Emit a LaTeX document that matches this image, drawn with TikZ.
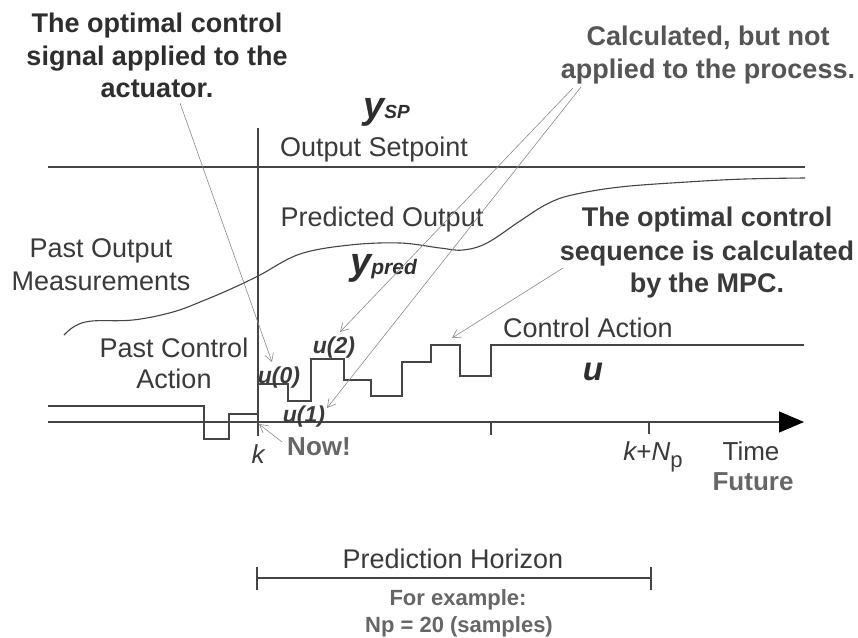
\documentclass[tikz,border=0pt]{standalone}
\usepackage{fontspec}
\setmainfont{Liberation Sans}
\usetikzlibrary{arrows.meta}
\definecolor{txt}{HTML}{3A3A3A}
\definecolor{dark}{HTML}{2E2E2E}
\definecolor{mid}{HTML}{555555}
\definecolor{light}{HTML}{666666}
\definecolor{lin}{HTML}{454545}
\definecolor{thin}{HTML}{8A8A8A}
\tikzset{
  lbl/.style={font=\fontsize{27}{30}\selectfont, text=txt, inner sep=0pt, anchor=base},
  call/.style={font=\fontsize{27}{30}\selectfont\bfseries, inner sep=0pt, anchor=base},
  ulbl/.style={font=\fontsize{23}{26}\selectfont\bfseries\itshape, text=txt, inner sep=0pt, anchor=base},
  grey/.style={font=\fontsize{26}{30}\selectfont\bfseries, text=light, inner sep=0pt, anchor=base},
  mainline/.style={draw=lin, line width=1.1pt},
  pointer/.style={draw=thin, line width=0.6pt, -{Straight Barb[length=8pt,width=9pt]}}
}
\begin{document}
\begin{tikzpicture}[x=1pt,y=-1pt]
\useasboundingbox (0,0) rectangle (858,637);
\fill[white] (0,0) rectangle (858,637);

% setpoint line
\coordinate (sp0) at (48,167);
\coordinate (sp1) at (805,167);
\draw[mainline] (sp0) -- (sp1);

% vertical "now" line
\coordinate (kt) at (258,128);
\coordinate (kb) at (258,436);
\draw[mainline] (kt) -- (kb);

% time axis
\coordinate (ax0) at (48,422);
\coordinate (ax1) at (804,422);
\draw[mainline, -{Triangle[length=25pt,width=21pt,fill=black,color=black]}] (ax0) -- (ax1);
\coordinate (t1a) at (491,422); \coordinate (t1b) at (491,435);
\coordinate (t2a) at (649,422); \coordinate (t2b) at (649,434);
\draw[mainline] (t1a) -- (t1b);
\draw[mainline] (t2a) -- (t2b);

% output curve
\draw[draw=lin, line width=1.1pt] plot[smooth, tension=0.6] coordinates {
 (64,335) (75,326) (92,321) (133,320) (173,312) (205,300) (233,288)
 (260,275) (300,254) (350,245) (400,243) (440,248) (463,250) (487,243)
 (520,221) (547,204) (572,195) (620,187) (687,182) (745,179) (805,178)};

% control action steps
\draw[mainline] (48,406) -- (204,406) -- (204,439) -- (229,439) -- (229,414) -- (258,414)
  -- (258,384) -- (288,384) -- (288,401) -- (311,401) -- (311,359) -- (344,359)
  -- (344,380) -- (371,380) -- (371,396) -- (402,396) -- (402,362) -- (431,362)
  -- (431,345) -- (460,345) -- (460,376) -- (491,376) -- (491,345) -- (804,345);

% prediction horizon bracket
\coordinate (ph0) at (257,578); \coordinate (ph1) at (651,578);
\draw[mainline] (ph0) -- (ph1);
\draw[mainline] (257,567) -- (257,590);
\draw[mainline] (651,567) -- (651,590);

% labels
\node[lbl] (setp) at (374,156) {Output Setpoint};
\node[inner sep=0pt, anchor=base west, text=dark] (ysp) at (363,118)
  {{\fontsize{38}{40}\selectfont\bfseries\itshape y}{\fontsize{19}{20}\selectfont\bfseries\itshape SP}};
\node[lbl] (pred) at (382,226) {Predicted Output};
\node[inner sep=0pt, anchor=base west, text=dark] (ypred) at (350,274)
  {{\fontsize{38}{40}\selectfont\bfseries\itshape y}{\fontsize{21}{22}\selectfont\bfseries\itshape pred}};
\node[lbl] (pom1) at (101,257) {Past Output};
\node[lbl] (pom2) at (101,290) {Measurements};
\node[lbl] (pca1) at (174,357) {Past Control};
\node[lbl] (pca2) at (174,388) {Action};
\node[lbl] (ca) at (588,337) {Control Action};
\node[inner sep=0pt, anchor=base, text=dark, font=\fontsize{33}{36}\selectfont\bfseries\itshape] (ubig) at (593,380) {u};
\node[ulbl] (u0) at (279,383) {u(0)};
\node[ulbl] (u2) at (334,353) {u(2)};
\node[ulbl] (u1) at (304,422) {u(1)};
\node[lbl, font=\fontsize{26}{30}\selectfont\itshape] (k) at (258,463) {k};
\node[lbl, font=\fontsize{26}{30}\selectfont] (knp) at (653,460)
  {{\itshape k}+{\itshape N}\raisebox{-7pt}{\fontsize{22}{24}\selectfont p}};
\node[lbl, font=\fontsize{26}{30}\selectfont] (time) at (751,460) {Time};
\node[grey] (now) at (319,455) {Now!};
\node[grey] (fut) at (753,490) {Future};
\node[lbl] (phl) at (453,568) {Prediction Horizon};
\node[grey, font=\fontsize{22}{24}\selectfont\bfseries] (ex1) at (458,605) {For example:};
\node[grey, font=\fontsize{22}{24}\selectfont\bfseries] (ex2) at (459,632) {Np = 20 (samples)};

% callouts
\node[call, text=dark] (oc1) at (157,32) {The optimal control};
\node[call, text=dark] (oc2) at (157,65) {signal applied to the};
\node[call, text=dark] (oc3) at (157,97) {actuator.};
\node[call, text=mid] (cb1) at (708,45) {Calculated, but not};
\node[call, text=mid] (cb2) at (708,78) {applied to the process.};
\node[call, text=txt] (os1) at (707,226) {The optimal control};
\node[call, text=txt] (os2) at (707,260) {sequence is calculated};
\node[call, text=txt] (os3) at (707,292) {by the MPC.};

% pointers
\coordinate (p1s) at (180,103); \coordinate (p1e) at (272,362);
\draw[pointer] (p1s) -- (p1e);
\coordinate (p2s) at (573,88); \coordinate (p2e) at (340,332);
\draw[pointer] (p2s) -- (p2e);
\coordinate (p3s) at (581,87); \coordinate (p3e) at (327,408);
\draw[pointer] (p3s) -- (p3e);
\coordinate (p4s) at (563,268); \coordinate (p4e) at (452,338);
\draw[pointer] (p4s) -- (p4e);
\coordinate (p5s) at (282,442); \coordinate (p5e) at (259,424);
\draw[pointer] (p5s) -- (p5e);
\end{tikzpicture}
\end{document}
